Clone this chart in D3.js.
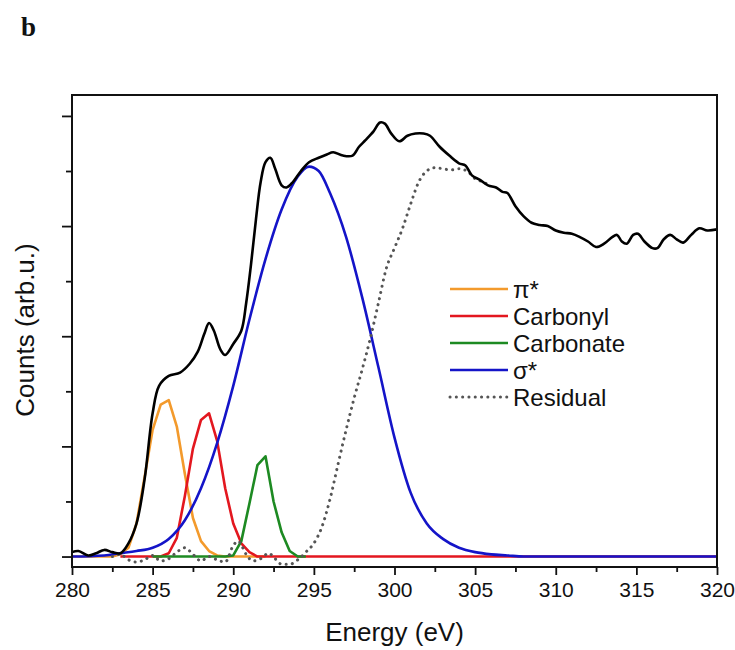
<!DOCTYPE html>
<html>
<head>
<meta charset="utf-8">
<script src="https://cdn.jsdelivr.net/npm/d3@7"></script>
<style>
  body { margin: 0; background: #fff; }
  text { font-family: "Liberation Sans", Arial, sans-serif; fill: #111; }
</style>
</head>
<body>
<svg id="chart" width="735" height="650"></svg>
<script>
// measured spectrum (black)
var totalE = [280.0,280.4,281.0,281.5,282.0,282.5,283.0,283.5,284.0,284.5,285.0,285.4,286.0,286.7,287.3,287.8,288.2,288.5,288.8,289.2,289.5,290.0,290.5,290.8,291.1,291.4,291.7,292.0,292.3,292.6,293.0,293.3,293.7,294.2,294.7,295.3,295.8,296.2,296.8,297.4,297.8,298.2,298.7,299.1,299.4,299.8,300.3,300.8,301.3,301.8,302.2,302.8,303.4,304.0,304.4,304.8,305.3,305.8,306.3,306.7,307.0,307.5,308.0,308.5,309.0,309.5,310.0,310.5,311.0,311.5,312.0,312.5,313.0,313.5,313.8,314.1,314.4,314.8,315.1,315.5,316.0,316.3,316.7,317.1,317.5,317.9,318.4,318.9,319.4,320.0];
var totalC = [0.04,0.05,0.01,0.03,0.06,0.04,0.03,0.12,0.30,0.70,1.30,1.55,1.64,1.67,1.75,1.86,2.02,2.12,2.05,1.88,1.83,1.93,2.05,2.30,2.65,3.05,3.40,3.58,3.62,3.52,3.37,3.35,3.40,3.50,3.58,3.62,3.65,3.67,3.64,3.64,3.72,3.78,3.86,3.94,3.93,3.84,3.77,3.82,3.84,3.84,3.82,3.72,3.64,3.57,3.55,3.46,3.42,3.37,3.35,3.31,3.30,3.18,3.09,3.03,3.01,3.00,2.96,2.94,2.93,2.90,2.86,2.81,2.84,2.90,2.92,2.86,2.84,2.92,2.93,2.86,2.80,2.80,2.88,2.92,2.88,2.85,2.92,2.98,2.96,2.97];

// pi* peak (orange)
var piE = [280.0,282.5,283.0,283.5,284.0,284.5,285.0,285.5,286.0,286.5,287.0,287.5,288.0,288.5,289.0,289.5,292.0];
var piC = [0,0,0.02,0.08,0.30,0.72,1.15,1.38,1.42,1.18,0.75,0.35,0.14,0.05,0.01,0,0];

// carbonyl (red)
var coE = [283.0,285.5,286.0,286.5,287.0,287.5,288.0,288.5,289.0,289.5,290.0,290.5,291.0,291.5,320.0];
var coC = [0,0,0.03,0.17,0.55,0.98,1.24,1.30,1.05,0.62,0.30,0.12,0.04,0,0];

// carbonate (green)
var carbE = [285.0,289.5,290.0,290.5,291.0,291.5,292.0,292.5,293.0,293.5,294.0,294.5];
var carbC = [0,0,0.01,0.14,0.48,0.83,0.91,0.50,0.22,0.05,0,0];

// sigma* (blue)
var sigE = [280,282,283,284,285,286,287,288,289,290,291,292,293,294,294.7,295.3,296,297,298,299,300,301,302,303,304,305,306,307,308,320];
var sigC = [0,0.01,0.03,0.05,0.08,0.16,0.33,0.62,1.03,1.55,2.15,2.70,3.15,3.45,3.54,3.50,3.30,2.90,2.35,1.72,1.08,0.58,0.30,0.16,0.08,0.04,0.02,0.01,0,0];

// residual (dotted)
var resE = [282.5,283.0,283.5,284.0,284.5,285.0,285.5,286.0,286.5,287.0,287.5,288.0,288.5,289.0,289.5,290.0,290.3,290.8,291.2,291.7,292.2,292.6,293.0,293.5,294.0,294.5,295.0,295.5,296.0,296.5,297.0,297.5,298.0,298.5,299.0,299.5,300.0,300.5,301.0,301.5,302.0,302.5,303.0,303.5,304.0,304.5,305.0,305.5,306.0];
var resC = [0,0.02,-0.03,-0.05,-0.03,0.01,-0.04,-0.02,0.04,0.08,0.02,-0.04,0,-0.03,-0.05,0.10,0.14,0.02,-0.04,-0.02,0.03,-0.02,-0.07,-0.07,-0.03,0.04,0.12,0.27,0.52,0.84,1.15,1.44,1.70,1.98,2.30,2.62,2.80,2.98,3.20,3.40,3.50,3.53,3.52,3.51,3.52,3.50,3.43,3.40,3.36];

var xTicks = [280,285,290,295,300,305,310,315,320];
var legendNames = ["\u03c0*","Carbonyl","Carbonate","\u03c3*","Residual"];

var svg = d3.select("#chart");
var padL = 72, padR = 717, padT = 95, padB = 567;

var x = d3.scaleLinear().domain([280,320]).range([padL,padR]);
var y = d3.scaleLinear().domain([-0.095,4.19]).range([padB,padT]);

function pts(es, cs) { return es.map(function(e,i){ return [e, cs[i]]; }); }

var series = [
  {name: legendNames[0], data: pts(piE,piC), color: "#f39a2c", curve: d3.curveLinear},
  {name: legendNames[1], data: pts(coE,coC), color: "#e3171f", curve: d3.curveLinear},
  {name: legendNames[2], data: pts(carbE,carbC), color: "#1d8a22", curve: d3.curveLinear},
  {name: legendNames[3], data: pts(sigE,sigC), color: "#1414c8", curve: d3.curveMonotoneX}
];

svg.append("clipPath").attr("id","plotclip")
  .append("rect").attr("x",padL).attr("y",padT).attr("width",padR-padL).attr("height",padB-padT);

var plot = svg.append("g").attr("clip-path","url(#plotclip)");

series.forEach(function(s){
  var line = d3.line().curve(s.curve).x(function(d){return x(d[0]);}).y(function(d){return y(d[1]);});
  plot.append("path").datum(s.data)
    .attr("fill","none").attr("stroke",s.color).attr("stroke-width",2.6)
    .attr("stroke-linejoin","round")
    .attr("d",line);
});

var resLine = d3.line().curve(d3.curveMonotoneX).x(function(d){return x(d[0]);}).y(function(d){return y(d[1]);});
plot.append("path").datum(pts(resE,resC))
  .attr("fill","none").attr("stroke","#555").attr("stroke-width",3)
  .attr("stroke-linecap","round").attr("stroke-dasharray","0.1,6.2")
  .attr("d",resLine);

var totLine = d3.line().curve(d3.curveCatmullRom).x(function(d){return x(d[0]);}).y(function(d){return y(d[1]);});
plot.append("path").datum(pts(totalE,totalC))
  .attr("fill","none").attr("stroke","#000").attr("stroke-width",2.6)
  .attr("stroke-linejoin","round")
  .attr("d",totLine);

// axes
var xMajor = d3.axisBottom(x).tickValues(xTicks).tickSize(8).tickPadding(7).tickFormat(d3.format("d"));
var xMinor = d3.axisBottom(x).tickValues(d3.range(282.5,320,5)).tickSize(5).tickFormat("");
var yMajor = d3.axisLeft(y).tickValues([0,1,2,3,4]).tickSize(10).tickFormat("");
var yMinor = d3.axisLeft(y).tickValues([0.5,1.5,2.5,3.5]).tickSize(6).tickFormat("");

var gx = svg.append("g").attr("transform","translate(0,"+padB+")").call(xMajor);
svg.append("g").attr("transform","translate(0,"+padB+")").call(xMinor);
svg.append("g").attr("transform","translate("+padL+",0)").call(yMajor);
svg.append("g").attr("transform","translate("+padL+",0)").call(yMinor);
svg.selectAll(".domain").remove();
svg.selectAll(".tick line").attr("stroke","#111").attr("stroke-width",1.8);
gx.selectAll("text").style("font-size","21px").style("font-family","Liberation Sans, Arial, sans-serif").attr("fill","#111");

svg.append("rect").attr("x",padL).attr("y",padT).attr("width",padR-padL).attr("height",padB-padT)
  .attr("fill","none").attr("stroke","#111").attr("stroke-width",2);

// titles
svg.append("text").attr("x",(padL+padR)/2).attr("y",641).attr("text-anchor","middle")
  .style("font-size","26px").text("Energy (eV)");
svg.append("text").attr("transform","translate(34,330) rotate(-90)").attr("text-anchor","middle")
  .style("font-size","26px").text("Counts (arb.u.)");
svg.append("text").attr("x",21).attr("y",36)
  .style("font-family","Liberation Serif, 'Times New Roman', serif").style("font-weight","bold").style("font-size","27px")
  .text("b");

// legend
var legendItems = series.map(function(s){ return {name: s.name, color: s.color, dash: null}; });
legendItems.push({name: legendNames[4], color: "#555", dash: "0.1,6.2"});
var lg = svg.append("g");
legendItems.forEach(function(d,i){
  var ly = 289 + i*27;
  lg.append("line").attr("x1",450).attr("x2",508).attr("y1",ly).attr("y2",ly)
    .attr("stroke",d.color).attr("stroke-width",d.dash ? 3 : 2.6)
    .attr("stroke-linecap", d.dash ? "round" : "butt")
    .attr("stroke-dasharray", d.dash);
  lg.append("text").attr("x",513).attr("y",ly+8.5).style("font-size","24px").text(d.name);
});
</script>
</body>
</html>
